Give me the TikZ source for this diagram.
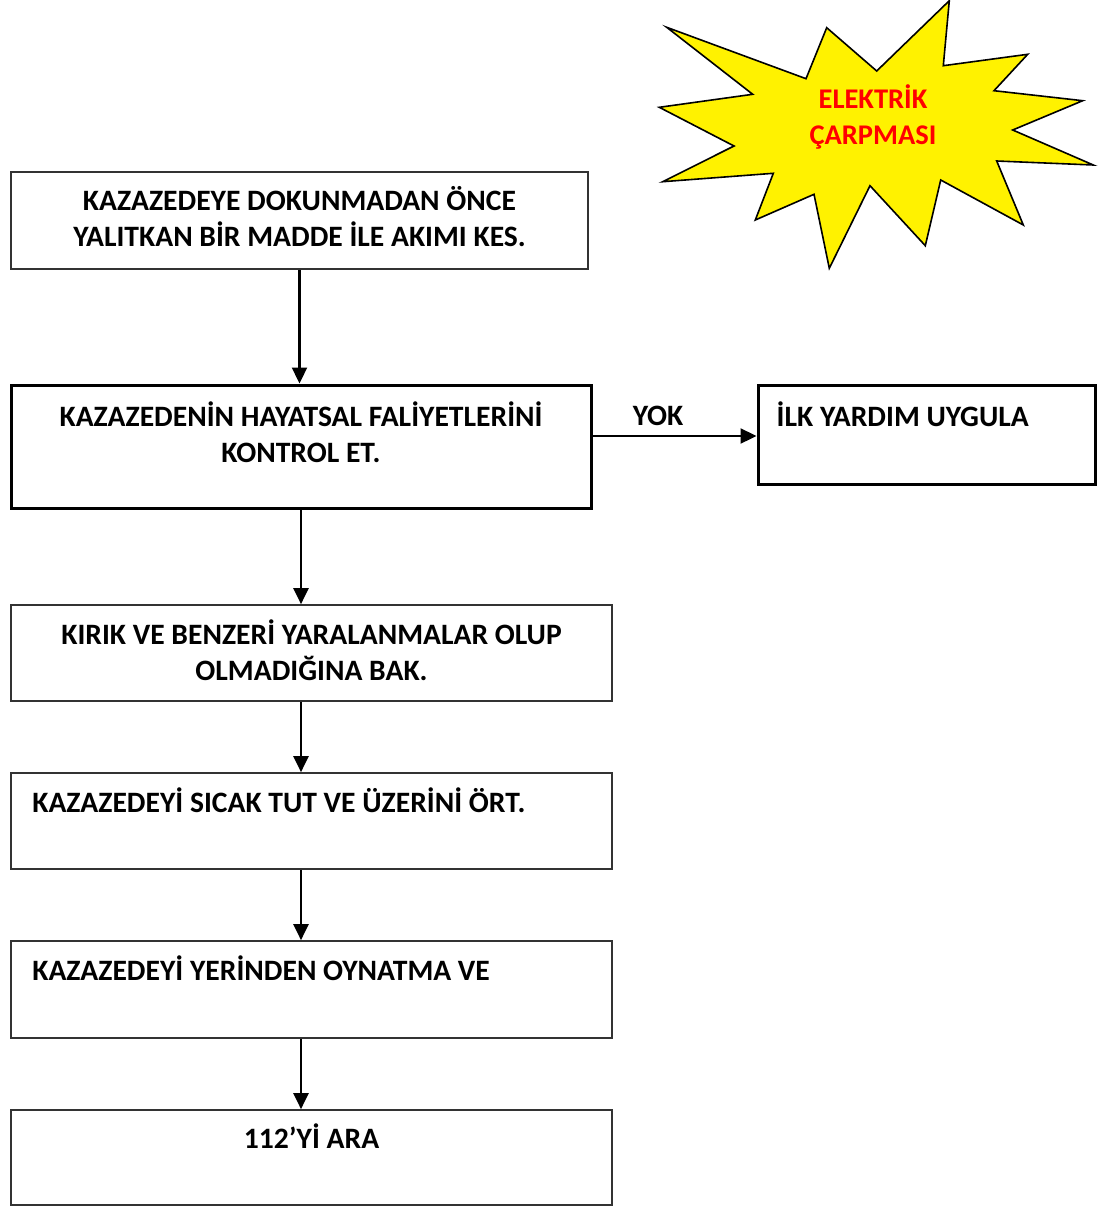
\documentclass[tikz,border=0pt]{standalone}
\usepackage{fontspec}
\setmainfont{Carlito}
\usetikzlibrary{arrows.meta,positioning}
\tikzset{
  box/.style={draw=black!80, line width=1.7pt, inner sep=0pt},
  kalin/.style={box, draw=black, line width=3pt},
  yazi/.style={inner sep=0pt, align=center, font=\bfseries\fontsize{29.6}{36.5}\selectfont},
  okcizgi/.style={-{Triangle[length=16pt,width=15pt]}, line width=2.3pt},
}
\begin{document}
\begin{tikzpicture}[x=1pt,y=-1pt]
  \useasboundingbox (0,0) rectangle (1112,1207);
  % yildiz
  \filldraw[fill=yellow, draw=black, line width=1.6pt]
    (666.7,27.3) -- (806,78.7) -- (826.7,27.7) -- (876.7,71) -- (949.3,0.7)
    -- (943.3,65.7) -- (1027.7,54.3) -- (994,90.7) -- (1082.7,100.7)
    -- (1012.7,130) -- (1093.3,165) -- (996.7,161) -- (1023.3,225)
    -- (940.7,180) -- (925.3,245.7) -- (870,185.7) -- (829.3,268.3)
    -- (814,194.3) -- (755.3,220) -- (773.3,173.3) -- (662.7,181.7)
    -- (734,146) -- (659.3,107.3) -- (752.7,94.3) -- cycle;
  \node[yazi, text=red, font=\bfseries\fontsize{28.5}{36}\selectfont] (baslik)
    at (873,117) {ELEKTRİK\\ÇARPMASI};

  % kutular
  \node[box, minimum width=577, minimum height=97,
    label={[yazi, anchor=north, yshift=-15pt]north:{KAZAZEDEYE DOKUNMADAN ÖNCE\\YALITKAN BİR MADDE İLE AKIMI KES.}}]
    (kes) at (299.5,220.5) {};
  \node[kalin, minimum width=580, minimum height=123,
    label={[yazi, anchor=north, yshift=-18pt]north:{KAZAZEDENİN HAYATSAL FALİYETLERİNİ\\KONTROL ET.}}]
    (hayat) at (301,446.5) {};
  \node[kalin, minimum width=337, minimum height=99,
    label={[yazi, anchor=north west, xshift=20pt, yshift=-18pt]north west:{İLK YARDIM UYGULA}}]
    (ilk) at (926.5,434.5) {};
  \node[box, minimum width=601, minimum height=96,
    label={[yazi, anchor=north, yshift=-15pt]north:{KIRIK VE BENZERİ YARALANMALAR OLUP\\OLMADIĞINA BAK.}}]
    (kirik) at (311.5,653) {};
  \node[box, minimum width=601, minimum height=96,
    label={[yazi, anchor=north west, xshift=22pt, yshift=-15pt]north west:{KAZAZEDEYİ SICAK TUT VE ÜZERİNİ ÖRT.}}]
    (sicak) at (311.5,821) {};
  \node[box, minimum width=601, minimum height=97,
    label={[yazi, anchor=north west, xshift=22pt, yshift=-15pt]north west:{KAZAZEDEYİ YERİNDEN OYNATMA VE}}]
    (oynatma) at (311.5,989.5) {};
  \node[box, minimum width=601, minimum height=95,
    label={[yazi, anchor=north, yshift=-14pt]north:{112’Yİ ARA}}]
    (ara) at (311.5,1157.5) {};

  % oklar
  \draw[okcizgi] (kes.south) -- (kes.south |- hayat.north);
  \draw[okcizgi] (hayat.south) -- (hayat.south |- kirik.north);
  \draw[okcizgi] (kirik.south -| hayat.south) -- (hayat.south |- sicak.north);
  \draw[okcizgi] (sicak.south -| hayat.south) -- (hayat.south |- oynatma.north);
  \draw[okcizgi] (oynatma.south -| hayat.south) -- (hayat.south |- ara.north);
  \draw[okcizgi] ([yshift=-1.5pt]hayat.east |- ilk.west) -- ([yshift=-1.5pt]ilk.west)
    node[yazi, pos=.4, above=9pt] (yok) {YOK};
\end{tikzpicture}
\end{document}
